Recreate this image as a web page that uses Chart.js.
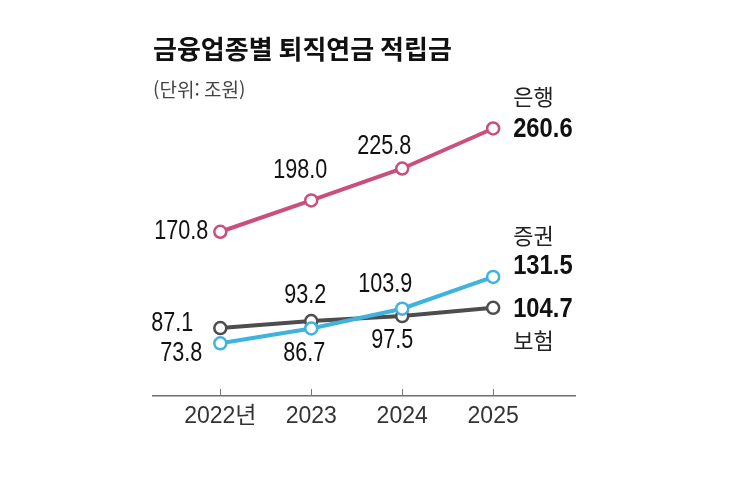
<!DOCTYPE html>
<html lang="ko">
<head>
<meta charset="utf-8">
<script src="https://cdn.jsdelivr.net/npm/chart.js@4.4.1/dist/chart.umd.min.js"></script>
<style>
  html, body { margin: 0; padding: 0; background: #fff; }
  #wrap { width: 744px; height: 495px; }
</style>
</head>
<body>
<div id="wrap"><canvas id="pensionChart"></canvas></div>
<script>
const years = [2022, 2023, 2024, 2025];
const yearLabels = ["2022년", "2023", "2024", "2025"];
const seriesNames = ["은행", "증권", "보험"];
const bank = [170.8, 198.0, 225.8, 260.6];
const securities = [73.8, 86.7, 103.9, 131.5];
const insurance = [87.1, 93.2, 97.5, 104.7];

// where each value label sits next to its point: [dx, dy, align]
const bankLabelPos = [[-12, 0, "right"], [-11, -30, "center"], [-18, -22, "center"], [20, 1, "left"]];
const securitiesLabelPos = [[-18, 10, "right"], [-7, 25, "center"], [-17, -24, "center"], [20, -10, "left"]];
const insuranceLabelPos = [[-27, -4, "right"], [-6, -25, "center"], [-10, 24, "center"], [20, 2, "left"]];
// series name offset from the last value label
const nameOffsets = [-33, -31, 31];

const numFont = '"Liberation Sans", "Noto Sans CJK KR", sans-serif';
const korFont = '"Noto Sans CJK KR", sans-serif';

const colors = ["#c94f7e", "#40b2de", "#4d4d4d"];

function points(values) {
  return values.map((v, i) => ({ x: years[i], y: v }));
}

function lineSet(name, values, color, labelPos) {
  return {
    label: name,
    data: points(values),
    borderColor: color,
    borderWidth: 4,
    pointRadius: 6,
    pointHoverRadius: 6,
    pointBorderWidth: 2.5,
    pointBackgroundColor: "#fff",
    pointBorderColor: color,
    tension: 0,
    labelPos: labelPos,
  };
}

// the numbers in the original use a narrow face, so squeeze them a bit
function narrowText(ctx, text, x, y, squeeze) {
  ctx.save();
  ctx.translate(x, y);
  ctx.scale(squeeze, 1);
  ctx.fillText(text, 0, 0);
  ctx.restore();
}

const valueLabels = {
  id: "valueLabels",
  afterDatasetsDraw(chart) {
    const ctx = chart.ctx;
    ctx.save();
    ctx.textBaseline = "middle";
    chart.data.datasets.forEach((ds, di) => {
      const meta = chart.getDatasetMeta(di);
      const last = ds.data.length - 1;
      meta.data.forEach((pt, i) => {
        const [dx, dy, align] = ds.labelPos[i];
        const isLast = i === last;
        ctx.font = (isLast ? "bold 27px " : "27px ") + numFont;
        ctx.fillStyle = "#111";
        ctx.textAlign = align;
        const ly = pt.y + dy;
        narrowText(ctx, ds.data[i].y.toFixed(1), pt.x + dx, ly, isLast ? 0.88 : 0.8);
        if (isLast) {
          ctx.font = "22px " + korFont;
          ctx.fillStyle = "#222";
          ctx.fillText(ds.label, pt.x + dx, ly + nameOffsets[di]);
        }
      });
    });
    ctx.restore();
  },
};

// short tick marks pointing up from the axis line
const upTicks = {
  id: "upTicks",
  afterDraw(chart) {
    const x = chart.scales.x;
    const ctx = chart.ctx;
    ctx.save();
    ctx.strokeStyle = "#777";
    ctx.lineWidth = 1;
    years.forEach((yr) => {
      const px = Math.round(x.getPixelForValue(yr)) + 0.5;
      ctx.beginPath();
      ctx.moveTo(px, x.top - 7);
      ctx.lineTo(px, x.top);
      ctx.stroke();
    });
    ctx.restore();
  },
};

const ctx = document.getElementById("pensionChart");

new Chart(ctx, {
  type: "line",
  data: {
    datasets: [
      lineSet(seriesNames[0], bank, colors[0], bankLabelPos),
      lineSet(seriesNames[1], securities, colors[1], securitiesLabelPos),
      lineSet(seriesNames[2], insurance, colors[2], insuranceLabelPos),
    ],
  },
  options: {
    responsive: true,
    maintainAspectRatio: false,
    animation: false,
    layout: {
      padding: { left: 153, right: 169, top: 34, bottom: 49 },
    },
    scales: {
      x: {
        type: "linear",
        min: 2021.26,
        max: 2025.9,
        afterBuildTicks(scale) {
          scale.ticks = years.map((v) => ({ value: v }));
        },
        afterFit(scale) {
          scale.height = 50;
        },
        grid: { display: false, drawTicks: false },
        border: { display: true, color: "#6f6f6f", width: 1.5 },
        ticks: {
          padding: 7,
          color: "#333",
          font: { family: numFont, size: 23 },
          callback: (v) => yearLabels[years.indexOf(v)],
        },
      },
      y: {
        display: false,
        min: 28,
        max: 284.5,
      },
    },
    plugins: {
      legend: { display: false },
      tooltip: { enabled: false },
      title: {
        display: true,
        text: "금융업종별 퇴직연금 적립금",
        align: "start",
        color: "#111",
        font: { family: korFont, size: 26, weight: "bold" },
        padding: { top: 0, bottom: 13 },
      },
      subtitle: {
        display: true,
        text: "(단위: 조원)",
        align: "start",
        color: "#444",
        font: { family: korFont, size: 19 },
        padding: { top: 0, bottom: 0 },
      },
    },
  },
  plugins: [valueLabels, upTicks],
});
</script>
</body>
</html>
